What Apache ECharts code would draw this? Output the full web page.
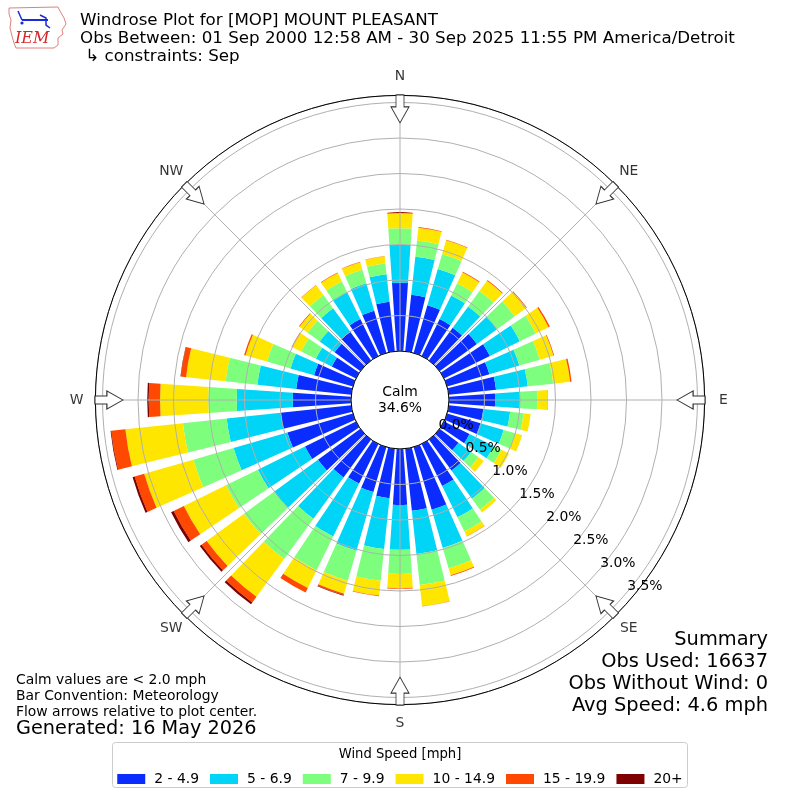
<!DOCTYPE html>
<html><head><meta charset="utf-8">
<script src="https://cdn.jsdelivr.net/npm/echarts@6/dist/echarts.min.js"></script>
<style>html,body{margin:0;padding:0;background:#fff}#c{width:800px;height:800px}</style>
</head><body><div id="c"></div>
<script>
// ---- data ----
const directions = ['0','10','20','30','40','50','60','70','80','90','100','110','120','130','140','150','160','170',
  '180','190','200','210','220','230','240','250','260','270','280','290','300','310','320','330','340','350'];
const speedBins = ['2 - 4.9', '5 - 6.9', '7 - 9.9', '10 - 14.9', '15 - 19.9', '20+'];
const binColors = ['#0a2cff', '#00d5f7', '#7dff7d', '#ffe600', '#ff4800', '#7f0000'];
const bin2to5   = [0.96,0.80,0.70,0.58,0.57,0.65,0.72,0.62,0.67,0.65,0.49,0.49,0.40,0.33,0.54,0.66,0.92,0.88,0.79,0.70,0.66,0.62,0.66,0.74,0.80,0.96,1.00,0.82,0.78,0.57,0.38,0.45,0.50,0.58,0.62,0.70];
const bin5to7   = [0.54,0.54,0.53,0.37,0.37,0.35,0.47,0.44,0.45,0.35,0.38,0.34,0.38,0.22,0.49,0.49,0.56,0.61,0.63,0.72,0.86,0.83,0.72,0.76,0.74,0.79,0.765,0.79,0.55,0.345,0.25,0.26,0.41,0.42,0.40,0.39];
const bin7to10  = [0.23,0.23,0.22,0.19,0.27,0.31,0.25,0.30,0.36,0.25,0.19,0.17,0.12,0.13,0.19,0.22,0.30,0.44,0.34,0.45,0.44,0.53,0.70,0.53,0.50,0.59,0.62,0.40,0.45,0.345,0.23,0.21,0.23,0.17,0.20,0.155];
const bin10to15 = [0.21,0.18,0.20,0.17,0.18,0.20,0.20,0.20,0.24,0.135,0.10,0.10,0.12,0.09,0.05,0.075,0.10,0.30,0.20,0.21,0.19,0.28,0.66,0.65,0.66,0.72,0.815,0.68,0.56,0.315,0.14,0.14,0.17,0.13,0.11,0.10];
const bin15to20 = [0.015,0.01,0.01,0.01,0.01,0.01,0.02,0.01,0.02,0.005,0,0,0,0,0,0.005,0.01,0.005,0.01,0.01,0.02,0.07,0.10,0.09,0.16,0.14,0.20,0.16,0.075,0.02,0.01,0.01,0.005,0.01,0.005,0.005];
const bin20plus = [0,0,0,0,0,0,0,0,0,0,0,0,0,0,0,0,0,0,0,0,0.01,0,0.03,0.03,0.04,0.03,0.01,0.02,0.005,0,0,0,0,0,0,0];
const compassLabels = ['N','NE','E','SE','S','SW','W','NW'];
const compassAngles = [0,45,90,135,180,225,270,315];
const radiusTicks = [0,0.5,1.0,1.5,2.0,2.5,3.0,3.5];
const calmPercent = 34.6;
const summaryLines = ['Summary','Obs Used: 16637','Obs Without Wind: 0','Avg Speed: 4.6 mph'];
const noteLines = ['Calm values are < 2.0 mph','Bar Convention: Meteorology','Flow arrows relative to plot center.'];
const titleLines = ['Windrose Plot for [MOP] MOUNT PLEASANT',
  'Obs Between: 01 Sep 2000 12:58 AM - 30 Sep 2025 11:55 PM America/Detroit',
  ' \u21b3 constraints: Sep'];
const binValues = [bin2to5, bin5to7, bin7to10, bin10to15, bin15to20, bin20plus];

// ---- layout ----
const FONT = 'DejaVu Sans';
const CX = 400, CY = 400, R0 = 49, R1 = 304.6, RMAX = 3.6, ARROW_R = 3.41, LABEL_R = 323.5;

const chart = echarts.init(document.getElementById('c'), null, {renderer: 'canvas'});

function txt(text, x, y, size, align, extra) {
  return Object.assign({
    type: 'text', silent: true, z: 100,
    style: {text: text, x: x, y: y, fontSize: size, fontFamily: FONT, fill: '#000',
      textAlign: align, align: align, textVerticalAlign: 'middle', verticalAlign: 'middle'}
  }, extra || {});
}

const graphics = [];
titleLines.forEach((t, i) => graphics.push(txt(t, 80, 21 + i * 18, 16.7, 'left')));
noteLines.forEach((t, i) => graphics.push(txt(t, 16, 680 + i * 16, 13.9, 'left')));
graphics.push(txt('Generated: 16 May 2026', 16, 729, 19.3, 'left'));
summaryLines.forEach((t, i) => graphics.push(txt(t, 768, 640 + i * 22, 19.4, 'right')));
graphics.push(txt('Calm', CX, 392, 13.9, 'center'));
graphics.push(txt(calmPercent.toFixed(1) + '%', CX, 408, 13.9, 'center'));
// legend frame + title
graphics.push({type: 'rect', silent: true, z: 1, shape: {x: 112.5, y: 742.5, width: 575, height: 45, r: 3},
  style: {fill: '#fff', stroke: '#cccccc', lineWidth: 1}});
graphics.push(txt('Wind Speed [mph]', 400, 755, 13.2, 'center'));
// IEM logo (simplified)
graphics.push({type: 'polygon', silent: true, z: 100,
  shape: {points: [[9,8],[58,7],[60,11],[64,18],[66,24],[62,30],[63,34],[58,38],[58,45],[54,48],[16,48],[14,43],[12,36],[10,28],[11,20],[9,14]]},
  style: {fill: 'none', stroke: '#e08080', lineWidth: 1}});
graphics.push({type: 'polyline', silent: true, z: 100, shape: {points: [[22,20],[48,20]]}, style: {stroke: '#1a2ad8', lineWidth: 2}});
graphics.push({type: 'polyline', silent: true, z: 100, shape: {points: [[18,11],[22,20]]}, style: {stroke: '#1a2ad8', lineWidth: 1.5}});
graphics.push({type: 'polyline', silent: true, z: 100, shape: {points: [[40,15],[46,18],[46,25],[50,28]]}, style: {stroke: '#1a2ad8', lineWidth: 1.5}});
graphics.push({type: 'circle', silent: true, z: 100, shape: {cx: 22, cy: 23, r: 1.6}, style: {fill: '#1a2ad8'}});
graphics.push({type: 'text', silent: true, z: 100, style: {text: 'IEM', x: 15, y: 39, fontSize: 16, fontFamily: 'DejaVu Serif', fontStyle: 'italic', fill: '#d62728', textAlign: 'left', align: 'left', textVerticalAlign: 'middle', verticalAlign: 'middle'}});

const barSeries = speedBins.map((name, i) => ({
  type: 'bar', name: name, coordinateSystem: 'polar', polarIndex: 0, stack: 'wind',
  data: binValues[i], barCategoryGap: '22%', z: 2, silent: true,
  itemStyle: {color: binColors[i]}
}));

const arrowPath = 'path://M-4,0 L4,0 L4,12 L9,12 L0,28 L-9,12 L-4,12 Z';
const arrowSeries = {
  type: 'scatter', coordinateSystem: 'polar', polarIndex: 1, z: 20, silent: true,
  symbol: arrowPath, symbolSize: [18, 28],
  itemStyle: {color: '#ffffff', borderColor: '#333', borderWidth: 1, opacity: 1},
  data: compassAngles.map(a => ({value: [ARROW_R, a], symbolRotate: -a}))
};
const compassSeries = {
  type: 'scatter', coordinateSystem: 'polar', polarIndex: 3, z: 20, silent: true,
  symbolSize: 0,
  label: {show: true, position: 'inside', formatter: '{b}', fontSize: 13.9, color: '#000', fontFamily: FONT},
  data: compassAngles.map((a, i) => ({name: compassLabels[i], value: [1, a]}))
};

const option = {
  animation: false,
  backgroundColor: '#fff',
  textStyle: {fontFamily: FONT},
  polar: [
    {center: [CX, CY], radius: [R0, R1]},
    {center: [CX, CY], radius: [R0, R1]},
    {center: [CX, CY], radius: [R0 - 3.5, R1 - 3.5]},
    {center: [CX, CY], radius: [0, LABEL_R]}
  ],
  angleAxis: [
    {polarIndex: 0, type: 'category', data: directions, startAngle: 95, clockwise: true,
      axisLine: {show: false}, axisTick: {show: false}, axisLabel: {show: false}, splitLine: {show: false}},
    {polarIndex: 1, type: 'value', min: 0, max: 360, interval: 45, startAngle: 90, clockwise: true, z: 6,
      axisLine: {show: true, lineStyle: {color: '#000', width: 1}}, axisTick: {show: false},
      axisLabel: {show: false},
      splitLine: {show: true, lineStyle: {color: '#b0b0b0', width: 1}}},
    {polarIndex: 2, type: 'value', min: 0, max: 360, startAngle: -40.6, clockwise: true, show: false},
    {polarIndex: 3, type: 'value', min: 0, max: 360, startAngle: 90, clockwise: true, show: false}
  ],
  radiusAxis: [
    {polarIndex: 0, type: 'value', min: 0, max: RMAX, show: false},
    {polarIndex: 1, type: 'value', min: 0, max: RMAX, interval: 0.5, z: 5,
      axisLine: {show: false}, axisTick: {show: false}, axisLabel: {show: false},
      splitLine: {show: true, lineStyle: {color: '#b0b0b0', width: 1}}},
    {polarIndex: 2, type: 'value', min: 0, max: RMAX, interval: 0.5, z: 7,
      axisLine: {show: false}, axisTick: {show: false}, splitLine: {show: false},
      axisLabel: {show: true, margin: 6, fontSize: 13.9, color: '#000', fontFamily: FONT,
        formatter: v => { const k = radiusTicks.findIndex(t => Math.abs(t - v) < 1e-6); return k >= 0 ? radiusTicks[k].toFixed(1) + '%' : ''; }}},
    {polarIndex: 3, type: 'value', min: 0, max: 1, show: false}
  ],
  legend: {
    data: speedBins, left: 'center', top: 772, orient: 'horizontal', padding: 0,
    itemWidth: 28, itemHeight: 10, itemGap: 11, icon: 'rect', selectedMode: false, z: 50,
    textStyle: {fontSize: 13.9, color: '#000', fontFamily: FONT, padding: [0, 0, 0, 4]}
  },
  graphic: graphics,
  series: barSeries.concat([arrowSeries, compassSeries])
};
chart.setOption(option);
</script>
</body></html>
